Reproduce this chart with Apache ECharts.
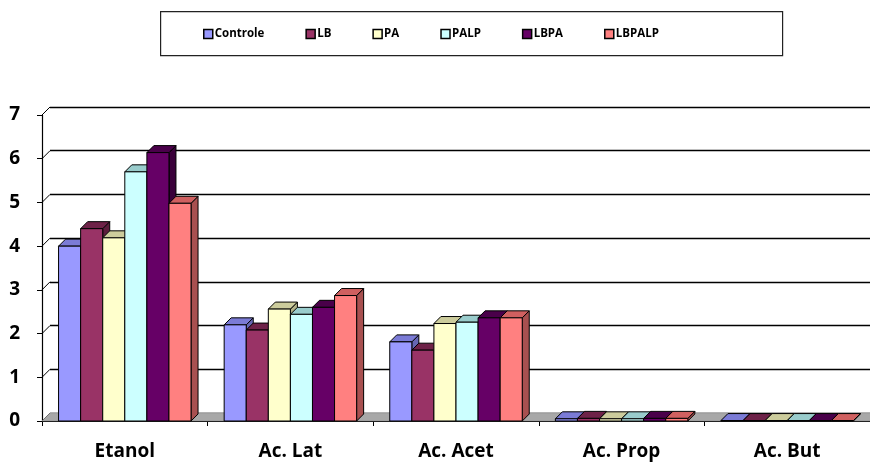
<!DOCTYPE html>
<html><head><meta charset="utf-8">
<script src="https://cdn.jsdelivr.net/npm/echarts@6/dist/echarts.min.js"></script>
<style>html,body{margin:0;padding:0;background:#fff}#c{width:870px;height:463px}</style>
</head><body><div id="c"></div>
<script>
var categories = ['Etanol', 'Ac. Lat', 'Ac. Acet', 'Ac. Prop', 'Ac. But'];
var seriesNames = ['Controle', 'LB', 'PA', 'PALP', 'LBPA', 'LBPALP'];
var controle = [4.0, 2.2, 1.81, 0.05, 0.01];
var lb = [4.4, 2.08, 1.62, 0.06, 0.01];
var pa = [4.19, 2.56, 2.23, 0.05, 0.01];
var palp = [5.7, 2.44, 2.26, 0.05, 0.01];
var lbpa = [6.14, 2.6, 2.36, 0.06, 0.01];
var lbpalp = [4.98, 2.87, 2.36, 0.06, 0.01];
var yTicks = [0, 1, 2, 3, 4, 5, 6, 7];

var values = [controle, lb, pa, palp, lbpa, lbpalp];
var colors = ['#9999FF', '#993366', '#FFFFCC', '#CCFFFF', '#660066', '#FF8080'];
var tops = ['#7b7bd6', '#6e2248', '#cccc9c', '#99cccc', '#4a004a', '#d06060'];
var sides = ['#6666b3', '#5c1c3c', '#b3b388', '#88b3b3', '#3a003a', '#a85050'];
var D = 7;
var FONT = 'Open Sans';

function makeBarSeries(i) {
  return {
    type: 'custom', name: seriesNames[i], xAxisIndex: 0, yAxisIndex: 0,
    itemStyle: { color: colors[i] }, z: 5,
    data: values[i].map(function (v, k) { return [k, v]; }),
    renderItem: function (params, api) {
      var idx = api.value(0), val = api.value(1);
      var c = api.coord([idx, val]);
      var b = api.coord([idx, 0]);
      var band = api.size([1, 0])[0];
      var bw = band * 0.8 / 6;
      var x0 = c[0] - band * 0.4 + i * bw;
      var y1 = c[1], y0 = b[1];
      var st = { stroke: '#000', lineWidth: 1 };
      return {
        type: 'group', children: [
          { type: 'polygon', shape: { points: [[x0 + bw, y1], [x0 + bw + D, y1 - D], [x0 + bw + D, y0 - D], [x0 + bw, y0]] }, style: Object.assign({ fill: sides[i] }, st) },
          { type: 'polygon', shape: { points: [[x0, y1], [x0 + D, y1 - D], [x0 + bw + D, y1 - D], [x0 + bw, y1]] }, style: Object.assign({ fill: tops[i] }, st) },
          { type: 'rect', shape: { x: x0, y: y1, width: bw, height: y0 - y1 }, style: Object.assign({ fill: colors[i] }, st) }
        ]
      };
    }
  };
}

var series = [
  {
    type: 'custom', name: 'floor', xAxisIndex: 0, yAxisIndex: 0, z: 2, silent: true,
    data: [[0, 0]],
    renderItem: function (params, api) {
      var cs = params.coordSys;
      var y0 = api.coord([0, 0])[1];
      return {
        type: 'polygon',
        shape: { points: [[cs.x, y0], [cs.x + cs.width, y0], [cs.x + cs.width + 8, y0 - 8], [cs.x + 8, y0 - 8]] },
        style: { fill: '#a8a8a8', stroke: '#8a8a8a', lineWidth: 0.5 }
      };
    }
  },
  {
    type: 'custom', name: 'wall', xAxisIndex: 0, yAxisIndex: 0, z: 1, silent: true,
    data: yTicks.map(function (t) { return [0, t]; }),
    renderItem: function (params, api) {
      var cs = params.coordSys;
      var y = api.coord([0, api.value(1)])[1];
      return { type: 'line', shape: { x1: cs.x, y1: y, x2: cs.x + 8, y2: y - 8 }, style: { stroke: '#000', lineWidth: 1 } };
    }
  }
];
for (var i = 0; i < 6; i++) series.push(makeBarSeries(i));

var chart = echarts.init(document.getElementById('c'));
chart.setOption({
  animation: false,
  backgroundColor: '#fff',
  graphic: [{
    type: 'rect', left: 160, top: 11, z: -1,
    shape: { width: 622, height: 44 },
    style: { fill: '#fff', stroke: '#222', lineWidth: 1.2 }
  }],
  legend: {
    data: seriesNames, left: 203, top: 28, itemWidth: 9, itemHeight: 9, itemGap: 41, padding: 0,
    icon: 'rect',
    itemStyle: { borderColor: '#000', borderWidth: 1.5 },
    textStyle: { fontFamily: FONT, fontWeight: 'bold', fontSize: 11.5, color: '#000', padding: [0, 0, 0, -3] }
  },
  grid: [
    { left: 42, top: 115, width: 832, height: 306 },
    { left: 50, top: 107, width: 832, height: 306 }
  ],
  xAxis: [
    {
      type: 'category', gridIndex: 0, data: categories,
      axisLine: { lineStyle: { color: '#000', width: 1.2 } },
      axisTick: { show: true, length: 5, lineStyle: { color: '#000' } },
      axisLabel: { color: '#000', fontFamily: FONT, fontWeight: 'bold', fontSize: 19, margin: 21 }
    },
    { type: 'category', gridIndex: 1, data: categories, show: false }
  ],
  yAxis: [
    {
      type: 'value', gridIndex: 0, min: 0, max: 7, interval: 1,
      splitLine: { show: false },
      axisLine: { show: true, lineStyle: { color: '#000', width: 1.2 } },
      axisTick: { show: true, length: 5, lineStyle: { color: '#000' } },
      axisLabel: { color: '#000', fontFamily: FONT, fontWeight: 'bold', fontSize: 19, margin: 22 }
    },
    {
      type: 'value', gridIndex: 1, min: 0, max: 7, interval: 1,
      axisLine: { show: false }, axisTick: { show: false }, axisLabel: { show: false },
      splitLine: { show: true, lineStyle: { color: '#000', width: 1.3 } }
    }
  ],
  series: series
});
</script></body></html>
